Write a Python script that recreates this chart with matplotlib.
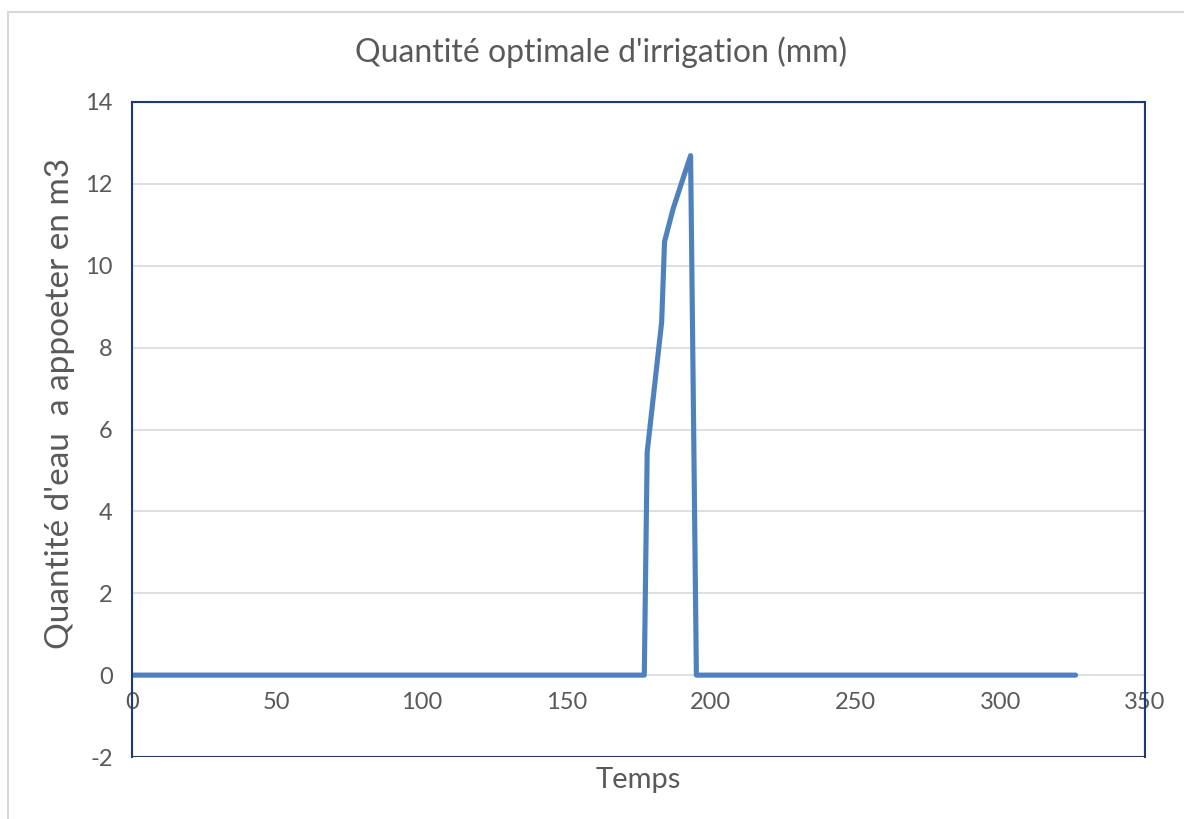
import matplotlib.pyplot as plt
from matplotlib.patches import Rectangle

# Quantité d'eau à apporter par jour (lecture du graphique)
temps = [0, 177, 178, 183, 184, 187, 190, 193, 195, 326]
quantite = [0, 0, 5.45, 8.62, 10.59, 11.40, 12.05, 12.69, 0, 0]

x_ticks = [0, 50, 100, 150, 200, 250, 300, 350]
y_ticks = [-2, 0, 2, 4, 6, 8, 10, 12, 14]

plt.rcParams['font.family'] = ['Lato', 'DejaVu Sans']
plt.rcParams['axes.unicode_minus'] = False
gris = '#595959'
bleu_cadre = '#1f3a73'

fig = plt.figure(figsize=(11.84, 8.19), dpi=100)
ax = fig.add_axes([132 / 1184, 1 - 757 / 819, 1013 / 1184, 655 / 819])

# cadre gris clair autour du graphique
fig.patches.append(Rectangle((8 / 1184, -0.1), 1.2, 1 - 12 / 819 + 0.1,
                             transform=fig.transFigure, fill=False,
                             edgecolor='#d9d9d9', linewidth=1.5))

ax.plot(temps, quantite, color='#4f81bd', linewidth=3.7,
        solid_capstyle='round', solid_joinstyle='round', zorder=3)

ax.set_xlim(0, 350)
ax.set_ylim(-2, 14)
ax.set_xticks(x_ticks)
ax.set_yticks(y_ticks)
ax.grid(True, axis='y', color='#d9d9d9', linewidth=1.2)
ax.set_axisbelow(True)

ax.spines['bottom'].set_position(('data', 0))
ax.spines['bottom'].set_color('none')
for s in ['top', 'left', 'right']:
    ax.spines[s].set_color(bleu_cadre)
    ax.spines[s].set_linewidth(1.5)
ax.add_patch(Rectangle((0, 0), 1, 1, transform=ax.transAxes, fill=False,
                       edgecolor=bleu_cadre, linewidth=1.5, zorder=4))

ax.tick_params(length=0, labelsize=17, labelcolor=gris)
ax.tick_params(axis='x', pad=12)
ax.tick_params(axis='y', pad=14)

fig.text(601 / 1184, 1 - 52 / 819, "Quantité optimale d'irrigation (mm)",
         ha='center', va='center', fontsize=23, color=gris)
fig.text(60 / 1184, 1 - 403 / 819, "Quantité d'eau  a appoeter en m3",
         ha='center', va='center', rotation=90, fontsize=24, color=gris)
fig.text(638 / 1184, 1 - 780 / 819, "Temps",
         ha='center', va='center', fontsize=21, color=gris)

fig.savefig('out.png', dpi=100)
